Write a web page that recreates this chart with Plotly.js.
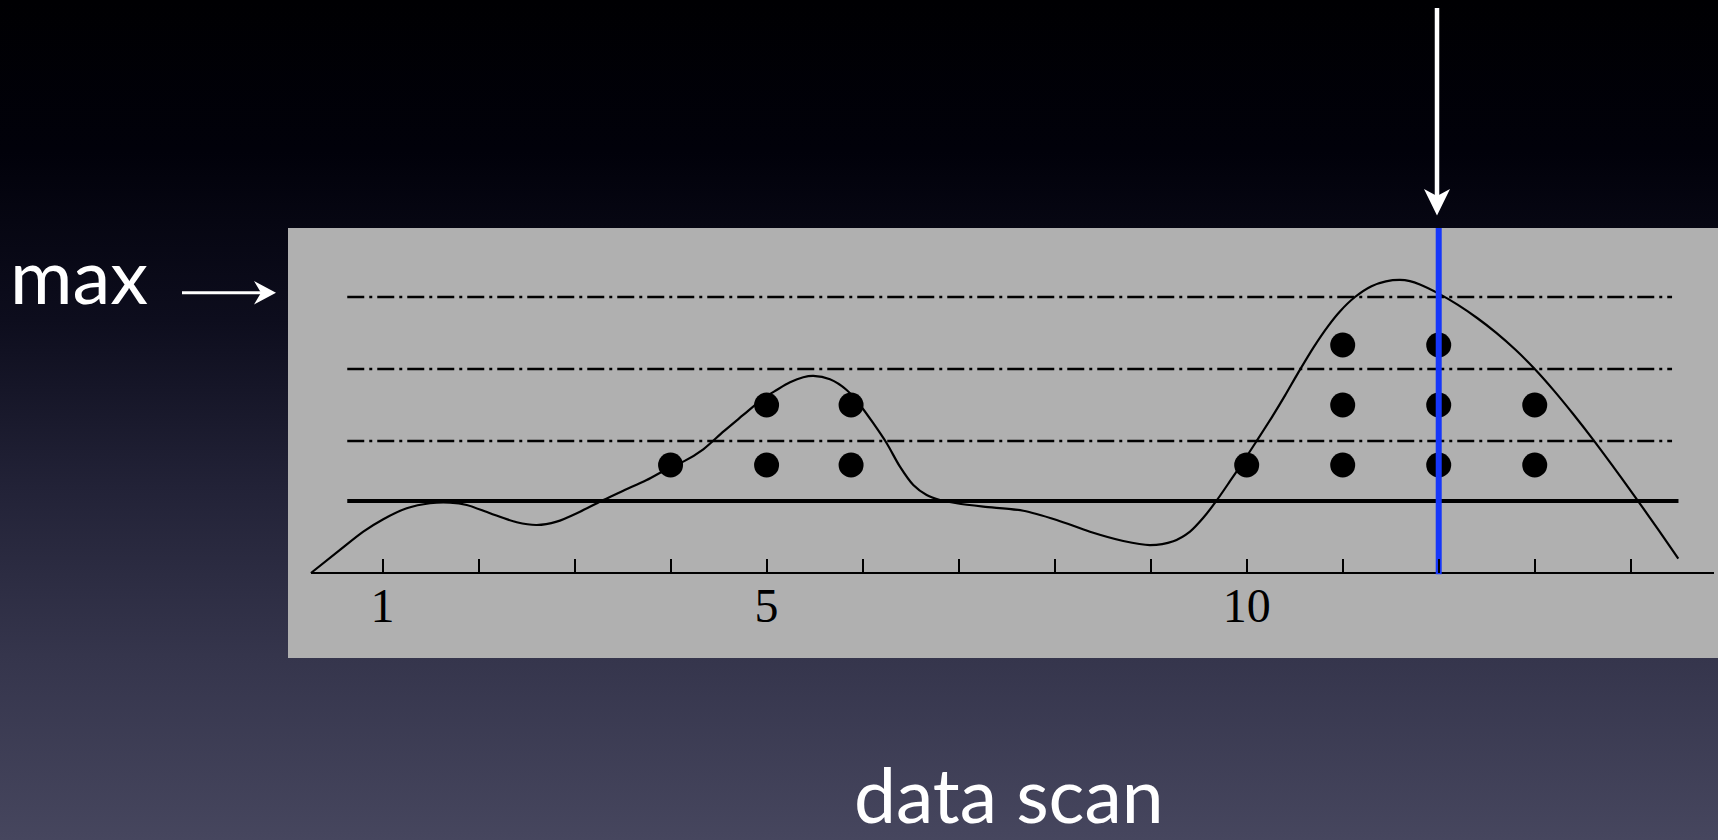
<!DOCTYPE html>
<html><head><meta charset="utf-8">
<script src="https://cdn.plot.ly/plotly-3.0.1.min.js"></script>
<style>
html,body{margin:0;padding:0;width:1718px;height:840px;overflow:hidden;
background:linear-gradient(to bottom,#000002 0%,#01010a 18%,#0d0d1d 38%,#222237 58%,#35354c 78%,#46465e 100%);}
#chart{width:1718px;height:840px;}
</style></head><body><div id="chart"></div>
<script>
// ---- data ----
const TICK_VALUES = [1,2,3,4,5,6,7,8,9,10,11,12,13,14];
const TICK_LABELS = ['1','','','','5','','','','','10','','','',''];
const CURVE_X = [0.255,0.557,0.800,1.008,1.252,1.495,1.703,1.877,2.120,2.398,2.606,2.814,3.057,3.300,3.508,3.751,3.994,4.133,4.341,4.549,4.757,4.966,5.105,5.244,5.382,5.487,5.660,5.834,5.973,6.111,6.251,6.389,6.528,6.667,6.806,6.980,7.257,7.674,8.021,8.368,8.715,8.993,9.236,9.410,9.548,9.688,9.826,9.965,10.104,10.260,10.400,10.537,10.700,10.850,10.971,11.128,11.300,11.450,11.596,11.700,11.804,12.000,12.200,12.400,12.600,12.800,13.000,13.200,13.400,13.600,13.800,14.000,14.200,14.400,14.495];
const CURVE_Y = [0.0,1.92,3.44,4.48,5.39,5.81,5.86,5.67,4.98,4.23,4.00,4.28,5.11,6.08,6.86,7.75,8.80,9.28,10.31,11.78,13.17,14.56,15.25,15.89,16.31,16.42,16.14,15.25,14.00,12.48,10.81,8.86,7.33,6.50,6.08,5.81,5.53,5.19,4.42,3.44,2.67,2.33,2.65,3.45,4.60,6.05,7.65,9.30,11.00,12.95,14.80,16.70,18.85,20.60,21.80,23.00,23.90,24.30,24.42,24.32,24.04,23.28,22.34,21.25,20.01,18.60,17.00,15.20,13.25,11.20,9.05,6.85,4.60,2.30,1.20];
const DOT_X = [4,5,5,5.88,5.88,10,11,11,11,12,12,12,13,13];
const DOT_Y = [9,9,14,9,14,9,9,14,19,9,14,19,9,14];
const THRESHOLD = 6;
const LEVELS = [11,17,23];
const SELECTED = 12;
const LINE_START = 0.633, LEVEL_END = 14.43, THRESH_END = 14.497;
const AXIS_START = 0.255, AXIS_END = 14.867;

// ---- layout helpers ----
const W = 1718, H = 840;
const px = v => v / W, py = v => 1 - v / H;
const P = (x, y) => `${px(x)},${py(y)}`;
const X_RANGE = [0.0158, 14.9086];
const Y_RANGE = [-85/12, 345/12];

const traces = [
  {x: CURVE_X, y: CURVE_Y, mode: 'lines', line: {color: '#000', width: 2.2, shape: 'spline', smoothing: 0.8}},
  {x: DOT_X, y: DOT_Y, mode: 'markers', marker: {color: '#000', size: 25, line: {width: 0}}},
  {x: [SELECTED, SELECTED], y: [-0.1, Y_RANGE[1]], mode: 'lines', line: {color: '#1637fa', width: 6}}
];

const shapes = [];
LEVELS.forEach(l => shapes.push({type: 'line', xref: 'x', yref: 'y', x0: LINE_START, x1: LEVEL_END, y0: l, y1: l,
  layer: 'below', line: {color: '#000', width: 2.4, dash: '17px,5px,3px,5px'}}));
shapes.push({type: 'line', xref: 'x', yref: 'y', x0: LINE_START, x1: THRESH_END, y0: THRESHOLD, y1: THRESHOLD,
  layer: 'below', line: {color: '#000', width: 4}});
shapes.push({type: 'line', xref: 'x', yref: 'y', x0: AXIS_START, x1: AXIS_END, y0: 0, y1: 0,
  layer: 'below', line: {color: '#000', width: 2}});
// white arrows (decoration)
shapes.push({type: 'line', xref: 'paper', yref: 'paper', x0: px(1437), x1: px(1437), y0: py(8), y1: py(200),
  line: {color: '#fff', width: 4.5}});
shapes.push({type: 'path', xref: 'paper', yref: 'paper',
  path: `M${P(1437,215.5)} L${P(1424,189)} L${P(1437,196)} L${P(1450,189)} Z`,
  fillcolor: '#fff', line: {width: 0}});
shapes.push({type: 'line', xref: 'paper', yref: 'paper', x0: px(182), x1: px(264), y0: py(292.7), y1: py(292.7),
  line: {color: '#fff', width: 3}});
shapes.push({type: 'path', xref: 'paper', yref: 'paper',
  path: `M${P(276,292.7)} L${P(254,281)} L${P(261,292.7)} L${P(254,304.5)} Z`,
  fillcolor: '#fff', line: {width: 0}});

const layout = {
  width: W, height: H,
  margin: {l: 0, r: 0, t: 0, b: 0, pad: 0},
  paper_bgcolor: 'rgba(0,0,0,0)',
  plot_bgcolor: '#b0b0b0',
  showlegend: false,
  xaxis: {domain: [288/W, 1], range: X_RANGE, anchor: 'free', position: py(573),
    showgrid: false, zeroline: false, showline: false,
    tickmode: 'array', tickvals: TICK_VALUES, ticktext: TICK_LABELS,
    ticks: 'inside', ticklen: 14, tickwidth: 2, tickcolor: '#000',
    tickfont: {family: 'Liberation Serif', size: 48, color: '#000'}},
  yaxis: {domain: [182/H, 612/H], range: Y_RANGE, visible: false, showgrid: false, zeroline: false},
  shapes: shapes,
  annotations: [
    {xref: 'paper', yref: 'paper', x: px(8), y: py(274.5), xanchor: 'left', yanchor: 'middle', showarrow: false,
     text: 'max', font: {family: 'Lato', size: 76, color: '#fff'}},
    {xref: 'paper', yref: 'paper', x: px(1009), y: py(794), xanchor: 'center', yanchor: 'middle', showarrow: false,
     text: 'data scan', font: {family: 'Lato', size: 75, color: '#fff'}}
  ]
};

Plotly.newPlot('chart', traces, layout, {staticPlot: true, displayModeBar: false});
</script></body></html>
